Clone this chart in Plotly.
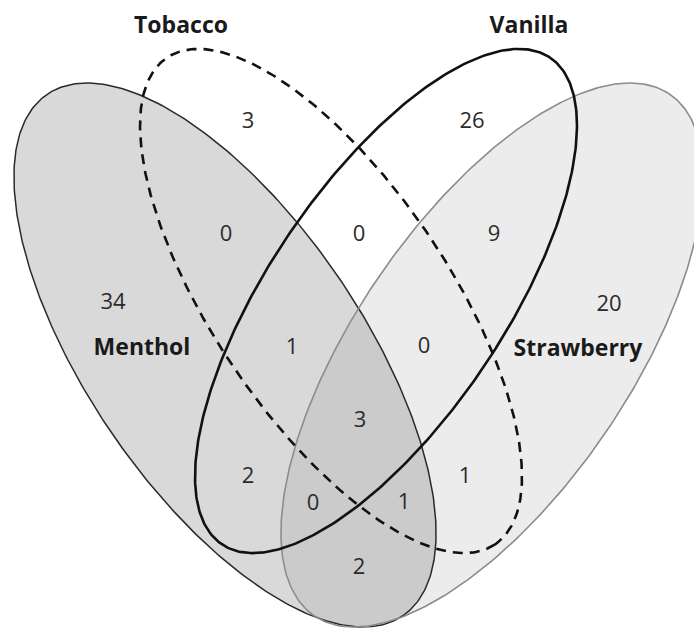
import numpy as np
import plotly.graph_objects as go

# ---- data ----
set_names = ["Menthol", "Tobacco", "Vanilla", "Strawberry"]
# region counts (membership code: M T V S)
region_codes = ["M", "T", "V", "S", "MT", "TV", "VS", "MTV", "TVS", "MTVS",
                "MV", "TS", "MVS", "MTS", "MS"]
region_counts = [34, 3, 26, 20, 0, 0, 9, 1, 0, 3, 2, 1, 0, 1, 2]

# ---- layout geometry (pixels, y downward) ----
ellipses = {
    "Menthol":    dict(cx=225, cy=355, a=315.6, b=137.6, ang=55.7),
    "Tobacco":    dict(cx=331, cy=301, a=293.5, b=117.8, ang=56.0),
    "Vanilla":    dict(cx=386, cy=301, a=293.5, b=117.8, ang=-56.0),
    "Strawberry": dict(cx=492, cy=355, a=315.6, b=137.6, ang=-55.7),
}
styles = {
    "Menthol":    dict(fill="rgba(110,110,110,0.26)", line="#2a2a2a", width=1.5, dash="solid"),
    "Strawberry": dict(fill="rgba(110,110,110,0.13)", line="#8c8c8c", width=1.6, dash="solid"),
    "Tobacco":    dict(fill=None, line="#111111", width=2.6, dash="10px,7px"),
    "Vanilla":    dict(fill=None, line="#111111", width=2.6, dash="solid"),
}
region_pos = {
    "M": (113, 303), "T": (248, 122), "V": (472, 122), "S": (609, 305),
    "MT": (226, 235), "TV": (359, 235), "VS": (494, 235),
    "MTV": (292, 348), "TVS": (424, 347), "MTVS": (360, 421),
    "MV": (248, 477), "TS": (465, 477), "MVS": (313, 504), "MTS": (404, 503),
    "MS": (359, 568),
}
label_pos = {
    "Menthol": (142, 349), "Tobacco": (181, 27),
    "Vanilla": (529, 27), "Strawberry": (578, 350),
}


def ellipse_xy(cx, cy, a, b, ang, n=400):
    t = np.linspace(0, 2 * np.pi, n)
    th = np.deg2rad(ang)
    x = cx + a * np.cos(t) * np.cos(th) - b * np.sin(t) * np.sin(th)
    y = cy + a * np.cos(t) * np.sin(th) + b * np.sin(t) * np.cos(th)
    return x, y


fig = go.Figure()

# fills first
for name in ["Menthol", "Strawberry"]:
    x, y = ellipse_xy(**ellipses[name])
    fig.add_trace(go.Scatter(x=x, y=y, mode="lines", fill="toself",
                             fillcolor=styles[name]["fill"],
                             line=dict(width=0), hoverinfo="skip",
                             showlegend=False))
# outlines
for name in ["Menthol", "Strawberry", "Tobacco", "Vanilla"]:
    x, y = ellipse_xy(**ellipses[name])
    st = styles[name]
    fig.add_trace(go.Scatter(x=x, y=y, mode="lines",
                             line=dict(color=st["line"], width=st["width"], dash=st["dash"]),
                             hoverinfo="skip", showlegend=False))

# region counts
fig.add_trace(go.Scatter(
    x=[region_pos[c][0] for c in region_codes],
    y=[region_pos[c][1] for c in region_codes],
    mode="text", text=[str(v) for v in region_counts],
    textfont=dict(family="Open Sans", size=22, color="#2b2b2b"),
    hoverinfo="skip", showlegend=False))

# set labels
fig.add_trace(go.Scatter(
    x=[label_pos[n][0] for n in set_names],
    y=[label_pos[n][1] for n in set_names],
    mode="text", text=["<b>%s</b>" % n for n in set_names],
    textfont=dict(family="Open Sans", size=23, color="#1a1a1a"),
    hoverinfo="skip", showlegend=False))

fig.update_layout(
    width=694, height=630, margin=dict(l=0, r=0, t=0, b=0),
    paper_bgcolor="white", plot_bgcolor="white",
    xaxis=dict(range=[0, 694], visible=False, fixedrange=True),
    yaxis=dict(range=[630, 0], visible=False, fixedrange=True),
)

fig.write_html("out.html",
               config={"displayModeBar": False, "staticPlot": True},
               post_script="document.body.style.margin='0';document.body.style.overflow='hidden';")
